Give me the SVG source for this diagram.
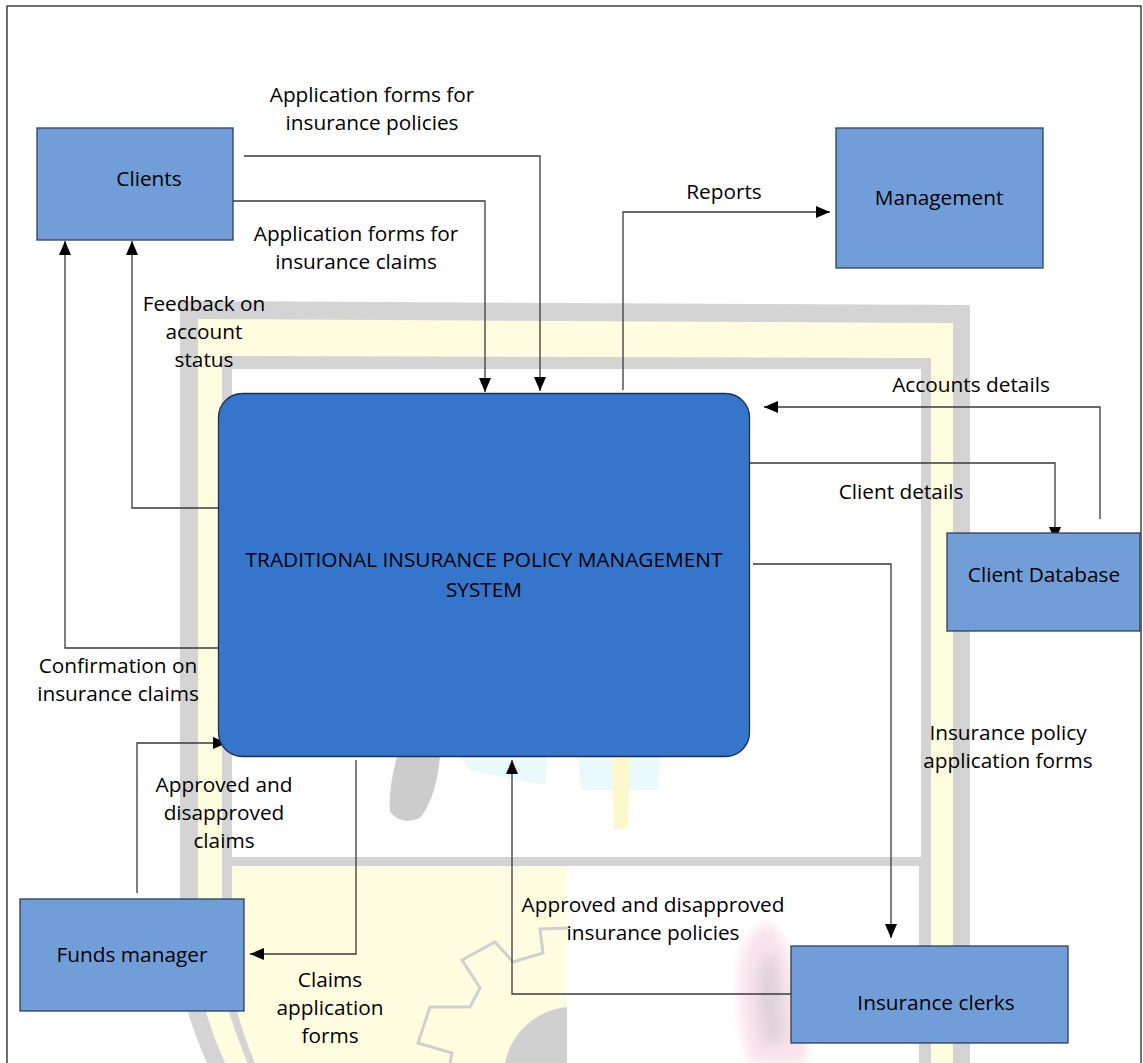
<svg xmlns="http://www.w3.org/2000/svg" width="1143" height="1063" viewBox="0 0 1143 1063">
<style>
  .node { fill: #719ED9; stroke: #2f3f5c; stroke-width: 1.3; }
  .main { fill: #3575CC; stroke: #1f2f4d; stroke-width: 1.3; }
  .lbl { font-family: "Open Sans", "Liberation Sans", sans-serif; font-size: 20.8px; fill: #000; text-anchor: middle; }
  .conn { fill: none; stroke: #3a3a3a; stroke-width: 1.3; }
  .wm-grey { fill: #d4d4d4; }
  .wm-yel { fill: #fffde0; }
</style>
<defs>
  <marker id="arr" markerUnits="userSpaceOnUse" markerWidth="14" markerHeight="12" refX="14" refY="6" orient="auto">
    <path d="M0,0 L14,6 L0,12 Z" fill="#000"/>
  </marker>
  <filter id="blur" x="-30%" y="-30%" width="160%" height="160%">
    <feGaussianBlur stdDeviation="6"/>
  </filter>
</defs>
<rect x="0" y="0" width="1143" height="1063" fill="#fff"/>
<g id="watermark">
  <path class="wm-grey" d="M180,301 L970,305 L970,1080 L215,1080 Q190,1030 180,980 Z"/>
  <path class="wm-yel" d="M198,319 L953,323 L953,1080 L233,1080 Q208,1030 198,980 Z"/>
  <path class="wm-grey" d="M222,356 L931,358 L931,1080 L255,1080 Q232,1030 222,985 Z"/>
  <rect x="232" y="369" width="689" height="488" fill="#fff"/>
  <path class="wm-yel" d="M232,866 L567,866 L567,1080 L262,1080 Q240,1030 232,990 Z"/>
  <path fill="#fff" d="M567,866 L919,866 L919,1080 L567,1080 Z"/>
  <path fill="#d0d0d0" d="M505,1063 A70,70 0 0 1 567,1007 L567,1063 Z"/>
  <polyline fill="none" stroke="#d0d0d0" stroke-width="3" points="568,928 540,929 543,953 513,962 495,942 462,960 480,988 470,1007 430,1007 418,1043 452,1053 450,1063"/>
  <path fill="#cccccc" d="M397,757 L440,757 Q436,798 420,818 Q402,826 390,812 Q388,790 397,757 Z"/>
  <path fill="#e9f9fc" d="M460,757 L547,757 L545,785 L470,770 Z"/>
  <path fill="#e9f9fc" d="M577,757 L660,757 L658,790 L582,790 Z"/>
  <path fill="#fcf8cc" d="M612,757 L630,757 L628,828 L614,830 Z"/>
  <g filter="url(#blur)" opacity="0.5">
    <path fill="#f3c6d8" d="M740,965 Q750,922 772,925 Q790,945 800,1000 L808,1063 L750,1063 Q736,1010 740,965 Z"/>
    <path fill="#bfa7b5" d="M758,980 Q765,950 775,955 Q782,990 785,1040 L765,1045 Q756,1010 758,980 Z"/>
  </g>
</g>
<rect x="7" y="6" width="1134" height="1080" fill="none" stroke="#222" stroke-width="1.3"/>
<g id="connectors">
  <path class="conn" marker-end="url(#arr)" d="M244,156 H540 V391"/>
  <path class="conn" marker-end="url(#arr)" d="M233,201 H485 V392"/>
  <path class="conn" marker-end="url(#arr)" d="M222,508 H132 V241"/>
  <path class="conn" marker-end="url(#arr)" d="M222,648 H65 V241"/>
  <path class="conn" marker-end="url(#arr)" d="M137,893 V743 H227"/>
  <path class="conn" marker-end="url(#arr)" d="M356,760 V954 H250"/>
  <path class="conn" marker-end="url(#arr)" d="M791,994 H512 V760"/>
  <path class="conn" marker-end="url(#arr)" d="M753,564 H891 V938"/>
  <path class="conn" marker-end="url(#arr)" d="M623,390 V212 H830"/>
  <path class="conn" marker-end="url(#arr)" d="M1100,519 V407 H764"/>
  <path class="conn" marker-end="url(#arr)" d="M747,463 H1055 V541"/>
</g>
<g id="labels">
  <text class="lbl" x="372" y="102">Application forms for</text>
  <text class="lbl" x="372" y="130">insurance policies</text>
  <text class="lbl" x="356" y="241">Application forms for</text>
  <text class="lbl" x="356" y="269">insurance claims</text>
  <text class="lbl" x="204" y="311">Feedback on</text>
  <text class="lbl" x="204" y="339">account</text>
  <text class="lbl" x="204" y="367">status</text>
  <text class="lbl" x="118" y="673">Confirmation on</text>
  <text class="lbl" x="118" y="701">insurance claims</text>
  <text class="lbl" x="224" y="792">Approved and</text>
  <text class="lbl" x="224" y="820">disapproved</text>
  <text class="lbl" x="224" y="848">claims</text>
  <text class="lbl" x="330" y="987">Claims</text>
  <text class="lbl" x="330" y="1015">application</text>
  <text class="lbl" x="330" y="1043">forms</text>
  <text class="lbl" x="653" y="912">Approved and disapproved</text>
  <text class="lbl" x="653" y="940">insurance policies</text>
  <text class="lbl" x="1008" y="740">Insurance policy</text>
  <text class="lbl" x="1008" y="768">application forms</text>
  <text class="lbl" x="724" y="199">Reports</text>
  <text class="lbl" x="971" y="392">Accounts details</text>
  <text class="lbl" x="901" y="499">Client details</text>
</g>
<g id="clients">
  <rect class="node" x="37" y="128" width="196" height="112"/>
  <text class="lbl" x="149" y="186">Clients</text>
</g>
<g id="management">
  <rect class="node" x="836" y="128" width="207" height="140"/>
  <text class="lbl" x="939" y="205">Management</text>
</g>
<g id="system">
  <rect class="main" x="218.5" y="393.5" width="531" height="363" rx="24" ry="24"/>
  <text class="lbl" x="484" y="567">TRADITIONAL INSURANCE POLICY MANAGEMENT</text>
  <text class="lbl" x="484" y="597">SYSTEM</text>
</g>
<g id="client-database">
  <rect class="node" x="947" y="533" width="193" height="98"/>
  <text class="lbl" x="1044" y="582">Client Database</text>
</g>
<g id="funds-manager">
  <rect class="node" x="20" y="899" width="224" height="112"/>
  <text class="lbl" x="132" y="962">Funds manager</text>
</g>
<g id="insurance-clerks">
  <rect class="node" x="791" y="946" width="277" height="97"/>
  <text class="lbl" x="936" y="1010">Insurance clerks</text>
</g>
</svg>
